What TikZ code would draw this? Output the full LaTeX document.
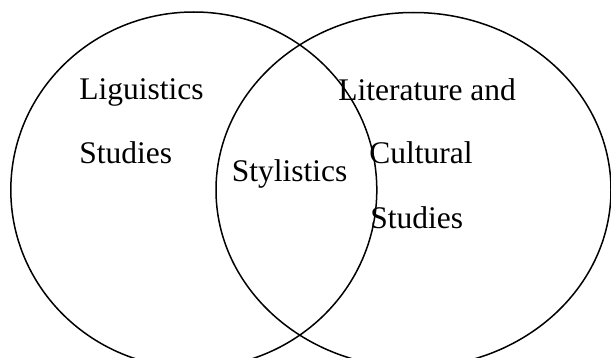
\documentclass[tikz,border=0pt]{standalone}
\usepackage{fontspec}
\setmainfont{Liberation Serif}
\begin{document}
\begin{tikzpicture}[x=0.5pt,y=-0.5pt,
        txt/.style={anchor=base west,inner sep=0pt,
            font=\fontsize{15.75}{18}\selectfont},
        venn/.style={line width=0.75pt}]
    \useasboundingbox (0,0) rectangle (611,358);
    \clip (0,0) rectangle (611,358);
	% the two sets
	\draw[venn] (193.8,190) ellipse [x radius=183, y radius=178];
	\draw[venn] (413.5,190) ellipse [x radius=197.5, y radius=177.5];

\node[txt] (ling1) at (79,100) {Liguistics};
\node[txt] (ling2) at (79,163) {Studies};
\node[txt] (styl) at (231.5,182) {Stylistics};
\node[txt] (lit1) at (338,100.5) {Literature and};
\node[txt] (lit2) at (369,163) {Cultural};
\node[txt] (lit3) at (370,228) {Studies};
\end{tikzpicture}
\end{document}
